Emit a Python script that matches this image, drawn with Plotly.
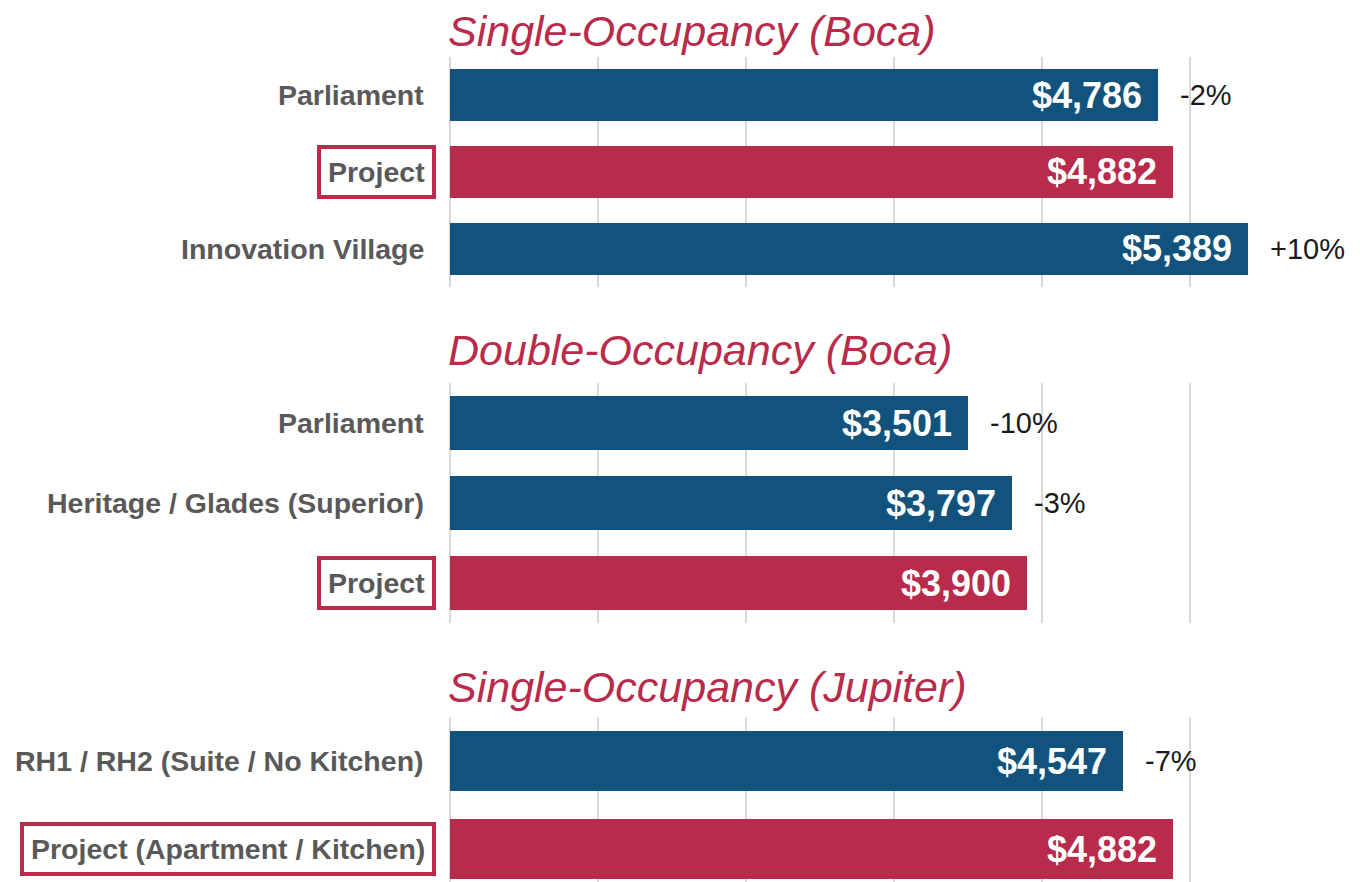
import plotly.graph_objects as go

W, H = 1360, 882
BLUE = "#12537E"
RED = "#B82B4A"
GRAY = "#595959"
GRID = "#D9D9D9"
FONT = "Liberation Sans, Arial, sans-serif"

# ---- data ----
titles = ["Single-Occupancy (Boca)", "Double-Occupancy (Boca)", "Single-Occupancy (Jupiter)"]

p1_names = ["Parliament", "Project", "Innovation Village"]
p1_values = [4786, 4882, 5389]
p1_pct = ["-2%", "", "+10%"]

p2_names = ["Parliament", "Heritage / Glades (Superior)", "Project"]
p2_values = [3501, 3797, 3900]
p2_pct = ["-10%", "-3%", ""]

p3_names = ["RH1 / RH2 (Suite / No Kitchen)", "Project (Apartment / Kitchen)"]
p3_values = [4547, 4882]
p3_pct = ["-7%", ""]

panels = [(p1_names, p1_values, p1_pct), (p2_names, p2_values, p2_pct), (p3_names, p3_values, p3_pct)]

# ---- layout geometry (pixels from top) ----
x_left, x_right = 450, 1300
x_max = 5743
y_px = [(57, 287), (383, 623), (717, 882)]
y_ranges = [[2.5, -0.5], [2.5, -0.5], [1.375, -0.5]]
title_y_px = [31, 350, 687]


def py(px):
    return 1 - px / H


fig = go.Figure()
annotations = []
layout = dict(
    width=W, height=H,
    margin=dict(l=0, r=0, t=0, b=0),
    paper_bgcolor="white", plot_bgcolor="white",
    showlegend=False,
    font=dict(family=FONT),
    bargap=0,
)

for i, (names, values, pct) in enumerate(panels):
    k = "" if i == 0 else str(i + 1)
    xa, ya = "x" + k, "y" + k
    colors = [RED if n.startswith("Project") else BLUE for n in names]
    fig.add_trace(go.Bar(
        x=values, y=names, orientation="h", xaxis=xa, yaxis=ya,
        marker=dict(color=colors, line=dict(width=0)), width=0.68,
        hoverinfo="skip",
    ))
    layout["xaxis" + k] = dict(
        domain=[x_left / W, x_right / W], range=[0, x_max], anchor=ya,
        showticklabels=False, ticks="", dtick=1000, tick0=0,
        showgrid=True, gridcolor=GRID, gridwidth=2,
        zeroline=True, zerolinecolor=GRID, zerolinewidth=2,
        showline=False, fixedrange=True,
    )
    layout["yaxis" + k] = dict(
        domain=[py(y_px[i][1]), py(y_px[i][0])], range=y_ranges[i], anchor=xa,
        type="category", showticklabels=False, showgrid=False, zeroline=False,
        showline=False, ticks="", fixedrange=True,
    )
    # panel title
    annotations.append(dict(
        xref="paper", yref="paper", x=446 / W, y=py(title_y_px[i]),
        xanchor="left", yanchor="middle", showarrow=False,
        text="<i>" + titles[i] + "</i>",
        font=dict(size=43, color=RED, family=FONT),
    ))
    for n, v, p in zip(names, values, pct):
        proj = n.startswith("Project")
        # category label
        lab = dict(
            xref="paper", yref=ya, x=(436 if proj else 426) / W, y=n,
            xanchor="right", yanchor="middle", showarrow=False,
            text="<b>" + n + "</b>",
            font=dict(size=28.5, color=GRAY, family=FONT),
        )
        if proj:
            lab.update(bordercolor=RED, borderwidth=4, borderpad=7, height=32)
        annotations.append(lab)
        # value label inside bar
        annotations.append(dict(
            xref=xa, yref=ya, x=v, y=n, xanchor="right", yanchor="middle",
            xshift=-14, showarrow=False,
            text="<b>$" + f"{v:,}" + "</b>",
            font=dict(size=36, color="white", family=FONT),
        ))
        if p:
            annotations.append(dict(
                xref=xa, yref=ya, x=v, y=n, xanchor="left", yanchor="middle",
                xshift=20, showarrow=False, text=p,
                font=dict(size=29, color="#1A1A1A", family=FONT),
            ))

layout["annotations"] = annotations
fig.update_layout(**layout)
fig.write_html(
    "out.html",
    config={"displayModeBar": False},
    post_script="document.body.style.margin='0';document.body.style.overflow='hidden';",
)
